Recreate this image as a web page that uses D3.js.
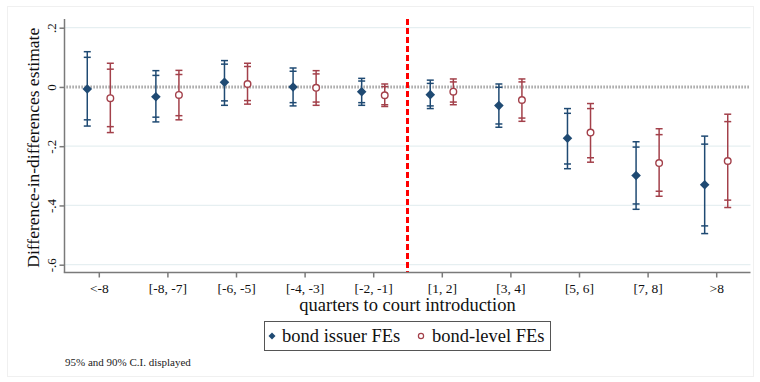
<!DOCTYPE html>
<html>
<head>
<meta charset="utf-8">
<script src="https://cdn.jsdelivr.net/npm/d3@7"></script>
<style>
  body { margin: 0; background: #fff; }
  svg { display: block; }
</style>
</head>
<body>
<div id="wrapper"></div>
<script>
// data
const categories = ["<-8", "[-8, -7]", "[-6, -5]", "[-4, -3]", "[-2, -1]", "[1, 2]", "[3, 4]", "[5, 6]", "[7, 8]", ">8"]

const issuerEst  = [-0.007, -0.033, 0.016, 0.000, -0.016, -0.026, -0.063, -0.173, -0.299, -0.330]
const issuerHi95 = [0.119, 0.055, 0.089, 0.064, 0.029, 0.023, 0.010, -0.073, -0.185, -0.166]
const issuerLo95 = [-0.132, -0.118, -0.062, -0.064, -0.062, -0.073, -0.136, -0.276, -0.413, -0.495]
const issuerHi90 = [0.100, 0.039, 0.077, 0.053, 0.020, 0.012, -0.001, -0.089, -0.203, -0.193]
const issuerLo90 = [-0.111, -0.102, -0.047, -0.053, -0.053, -0.064, -0.125, -0.260, -0.395, -0.469]

const bondEst  = [-0.038, -0.027, 0.010, -0.003, -0.028, -0.016, -0.044, -0.154, -0.257, -0.250]
const bondHi95 = [0.080, 0.056, 0.080, 0.055, 0.010, 0.027, 0.027, -0.056, -0.141, -0.092]
const bondLo95 = [-0.154, -0.111, -0.058, -0.062, -0.066, -0.060, -0.116, -0.254, -0.369, -0.407]
const bondHi90 = [0.060, 0.042, 0.069, 0.044, 0.001, 0.017, 0.017, -0.073, -0.161, -0.117]
const bondLo90 = [-0.134, -0.097, -0.046, -0.051, -0.060, -0.051, -0.105, -0.239, -0.352, -0.382]

const yTicks = [0.2, 0, -0.2, -0.4, -0.6]
const yTickLabels = [".2", "0", "-.2", "-.4", "-.6"]

const seriesNames = ["bond issuer FEs", "bond-level FEs"]

const navy = "#1f4a73"
const maroon = "#a3404a"
const serif = "'Liberation Serif', 'Times New Roman', serif"

const width = 760
const height = 382

const svg = d3.select("#wrapper").append("svg")
  .attr("width", width)
  .attr("height", height)
  .style("font-family", serif)

// faint outer frame
svg.append("rect")
  .attr("x", 7.5).attr("y", 6.5)
  .attr("width", width - 14).attr("height", height - 12)
  .attr("fill", "none")
  .attr("stroke", "#f0f0f0")

const plotLeft = 64.5
const plotRight = 750.5
const plotTop = 19
const plotBottom = 272.5

const xScale = d3.scaleLinear().domain([0.5, 10.5]).range([plotLeft, plotRight])
const yScale = d3.scaleLinear().domain([0.2, -0.6]).range([27.7, 264.7])

// gridlines
svg.append("g")
  .selectAll("line")
  .data(yTicks.filter(d => d !== 0))
  .join("line")
  .attr("x1", plotLeft).attr("x2", plotRight)
  .attr("y1", d => yScale(d)).attr("y2", d => yScale(d))
  .attr("stroke", "#e6eff1")
  .attr("stroke-width", 1.2)

// zero reference line (dotted)
svg.append("line")
  .attr("x1", plotLeft + 2).attr("x2", plotRight)
  .attr("y1", yScale(0)).attr("y2", yScale(0))
  .attr("stroke", "#8c8c8c")
  .attr("stroke-width", 3)
  .attr("stroke-dasharray", "1.2 1.8")

// event line
svg.append("line")
  .attr("x1", xScale(5.5)).attr("x2", xScale(5.5))
  .attr("y1", plotTop).attr("y2", plotBottom)
  .attr("stroke", "#ff0000")
  .attr("stroke-width", 3)
  .attr("stroke-dasharray", "6 3")

// y axis
const yAxis = d3.axisLeft(yScale)
  .tickValues(yTicks)
  .tickFormat((d, i) => yTickLabels[i])
  .tickSize(5)
  .tickSizeOuter(0)

const yAxisG = svg.append("g")
  .attr("transform", `translate(${plotLeft},0)`)
  .call(yAxis)
  .attr("font-family", serif)
yAxisG.select(".domain").attr("d", `M0,${plotTop}V${plotBottom}`)
yAxisG.selectAll("line, path").attr("stroke", "#7a7a7a").attr("stroke-width", 1.5)
yAxisG.selectAll("text")
  .attr("x", null).attr("dy", null)
  .attr("transform", "translate(-9,0) rotate(-90)")
  .attr("text-anchor", "middle")
  .style("font-family", serif)
  .style("font-size", "13px")
  .attr("fill", "#111")

// x axis
const xAxis = d3.axisBottom(xScale)
  .tickValues(d3.range(1, categories.length + 1))
  .tickFormat((d, i) => categories[i])
  .tickSize(5)
  .tickSizeOuter(0)

const xAxisG = svg.append("g")
  .attr("transform", `translate(0,${plotBottom})`)
  .call(xAxis)
  .attr("font-family", serif)
xAxisG.select(".domain").attr("d", `M${plotLeft - 0.75},0H${plotRight}`)
xAxisG.selectAll("line, path").attr("stroke", "#7a7a7a").attr("stroke-width", 1.5)
xAxisG.selectAll("text")
  .attr("y", 20).attr("dy", null)
  .style("font-family", serif)
  .style("font-size", "13.5px")
  .attr("fill", "#111")

// axis titles
svg.append("text")
  .attr("transform", `translate(39,${(plotTop + plotBottom) / 2 + 2}) rotate(-90)`)
  .attr("text-anchor", "middle")
  .style("font-size", "17.5px")
  .attr("fill", "#111")
  .text("Difference-in-differences estimate")

svg.append("text")
  .attr("x", xScale(5.5))
  .attr("y", 311)
  .attr("text-anchor", "middle")
  .style("font-size", "18.5px")
  .attr("fill", "#111")
  .text("quarters to court introduction")

// coefficients with 95% and 90% intervals
const offset = 0.168
const capHalf = 3.5

const series = [
  { est: issuerEst, hi95: issuerHi95, lo95: issuerLo95, hi90: issuerHi90, lo90: issuerLo90, shift: -offset, color: navy, marker: "diamond" },
  { est: bondEst, hi95: bondHi95, lo95: bondLo95, hi90: bondHi90, lo90: bondLo90, shift: offset, color: maroon, marker: "circle" },
]

series.forEach(s => {
  const rows = categories.map((c, i) => ({
    x: xScale(i + 1 + s.shift),
    est: s.est[i], hi95: s.hi95[i], lo95: s.lo95[i], hi90: s.hi90[i], lo90: s.lo90[i],
  }))

  const g = svg.append("g").attr("stroke", s.color).attr("stroke-width", 1.5)

  g.selectAll(".whisker")
    .data(rows)
    .join("line")
    .attr("class", "whisker")
    .attr("x1", d => d.x).attr("x2", d => d.x)
    .attr("y1", d => yScale(d.hi95)).attr("y2", d => yScale(d.lo95))

  const capKeys = ["hi95", "lo95", "hi90", "lo90"]
  capKeys.forEach(k => {
    g.selectAll(`.cap-${k}`)
      .data(rows)
      .join("line")
      .attr("class", `cap-${k}`)
      .attr("x1", d => d.x - capHalf).attr("x2", d => d.x + capHalf)
      .attr("y1", d => yScale(d[k])).attr("y2", d => yScale(d[k]))
  })

  if (s.marker === "diamond") {
    svg.append("g").selectAll("path")
      .data(rows)
      .join("path")
      .attr("d", d => `M${d.x},${yScale(d.est) - 4.8}L${d.x + 4.8},${yScale(d.est)}L${d.x},${yScale(d.est) + 4.8}L${d.x - 4.8},${yScale(d.est)}Z`)
      .attr("fill", s.color)
  } else {
    svg.append("g").selectAll("circle")
      .data(rows)
      .join("circle")
      .attr("cx", d => d.x)
      .attr("cy", d => yScale(d.est))
      .attr("r", 3.3)
      .attr("fill", "#fff")
      .attr("stroke", s.color)
      .attr("stroke-width", 1.4)
  }
})

// legend
const legend = svg.append("g")
legend.append("rect")
  .attr("x", 264.5).attr("y", 321.5)
  .attr("width", 286).attr("height", 29)
  .attr("fill", "#fff")
  .attr("stroke", "#555")
  .attr("stroke-width", 1)

legend.append("path")
  .attr("d", "M272,332.5L275.5,336L272,339.5L268.5,336Z")
  .attr("fill", navy)
legend.append("text")
  .attr("x", 282).attr("y", 342)
  .style("font-size", "18.5px")
  .attr("fill", "#111")
  .text(seriesNames[0])

legend.append("circle")
  .attr("cx", 421).attr("cy", 336).attr("r", 2.6)
  .attr("fill", "#fff").attr("stroke", maroon).attr("stroke-width", 1.2)
legend.append("text")
  .attr("x", 432).attr("y", 342)
  .style("font-size", "18.5px")
  .attr("fill", "#111")
  .text(seriesNames[1])

// note
svg.append("text")
  .attr("x", 65).attr("y", 366)
  .style("font-size", "11px")
  .attr("fill", "#222")
  .text("95% and 90% C.I. displayed")
</script>
</body>
</html>
